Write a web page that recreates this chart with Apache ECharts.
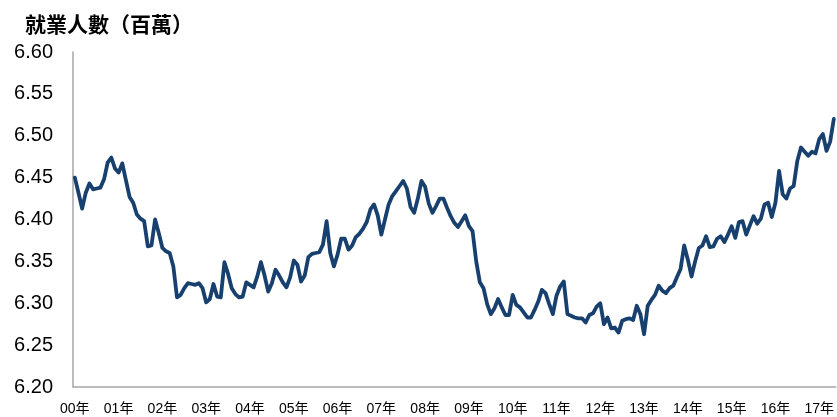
<!DOCTYPE html>
<html>
<head>
<meta charset="utf-8">
<script src="https://cdn.jsdelivr.net/npm/echarts@6/dist/echarts.min.js"></script>
<style>
  html, body { margin: 0; padding: 0; background: #fff; }
  #chart { width: 837px; height: 417px; }
</style>
</head>
<body>
<div id="chart"></div>
<script>
// Monthly employment (millions), Jan 2000 – May 2017
const firstYear = 2000;

const employment = [
  // 2000
  6.450, 6.432, 6.413, 6.432, 6.443, 6.436, 6.437, 6.438, 6.448, 6.468, 6.474, 6.461,
  // 2001
  6.456, 6.467, 6.447, 6.427, 6.420, 6.406, 6.401, 6.398, 6.368, 6.369, 6.400, 6.384,
  // 2002
  6.366, 6.362, 6.360, 6.344, 6.307, 6.310, 6.318, 6.324, 6.323, 6.322, 6.324, 6.318,
  // 2003
  6.301, 6.305, 6.323, 6.308, 6.307, 6.349, 6.335, 6.318, 6.311, 6.307, 6.308, 6.325,
  // 2004
  6.322, 6.319, 6.332, 6.349, 6.333, 6.314, 6.324, 6.340, 6.333, 6.325, 6.319, 6.331,
  // 2005
  6.351, 6.346, 6.326, 6.333, 6.355, 6.359, 6.360, 6.361, 6.370, 6.398, 6.360, 6.344,
  // 2006
  6.358, 6.377, 6.377, 6.364, 6.369, 6.379, 6.383, 6.389, 6.397, 6.412, 6.418, 6.405,
  // 2007
  6.382, 6.400, 6.418, 6.428, 6.434, 6.440, 6.446, 6.437, 6.415, 6.408, 6.425, 6.446,
  // 2008
  6.439, 6.419, 6.408, 6.416, 6.425, 6.425, 6.414, 6.404, 6.396, 6.391, 6.398, 6.405,
  // 2009
  6.392, 6.386, 6.350, 6.325, 6.318, 6.299, 6.287, 6.294, 6.305, 6.295, 6.286, 6.286,
  // 2010
  6.310, 6.298, 6.295, 6.289, 6.283, 6.283, 6.292, 6.302, 6.316, 6.312, 6.299, 6.287,
  // 2011
  6.309, 6.320, 6.326, 6.287, 6.285, 6.283, 6.282, 6.282, 6.277, 6.286, 6.288, 6.296,
  // 2012
  6.300, 6.275, 6.283, 6.270, 6.271, 6.265, 6.279, 6.281, 6.282, 6.280, 6.297, 6.287,
  // 2013
  6.263, 6.297, 6.304, 6.310, 6.321, 6.315, 6.312, 6.318, 6.321, 6.331, 6.341, 6.369,
  // 2014
  6.352, 6.332, 6.350, 6.366, 6.369, 6.380, 6.367, 6.368, 6.377, 6.380, 6.373, 6.382,
  // 2015
  6.392, 6.378, 6.397, 6.398, 6.382, 6.393, 6.404, 6.395, 6.401, 6.418, 6.420, 6.403,
  // 2016
  6.420, 6.458, 6.430, 6.425, 6.437, 6.440, 6.470, 6.486, 6.481, 6.476, 6.481, 6.479,
  // 2017
  6.496, 6.502, 6.482, 6.493, 6.520
];

const yearLabels = ['00年', '01年', '02年', '03年', '04年', '05年', '06年', '07年', '08年',
                    '09年', '10年', '11年', '12年', '13年', '14年', '15年', '16年', '17年'];

const yAxisMin = 6.20;
const yAxisMax = 6.60;
const yAxisStep = 0.05;

// One category per month
const months = employment.map((_, i) => {
  const y = firstYear + Math.floor(i / 12);
  const m = (i % 12) + 1;
  return y + '-' + (m < 10 ? '0' + m : m);
});

const chart = echarts.init(document.getElementById('chart'), null, { renderer: 'canvas' });

chart.setOption({
  animation: false,
  backgroundColor: '#ffffff',
  title: {
    text: '就業人數（百萬）',
    left: 20,
    top: 9,
    textStyle: {
      fontFamily: '"Noto Sans CJK TC", "Noto Sans CJK SC", sans-serif',
      fontSize: 21,
      fontWeight: 'bold',
      color: '#000000'
    }
  },
  grid: { left: 73, right: 1, top: 52, bottom: 30, containLabel: false },
  xAxis: {
    type: 'category',
    data: months,
    boundaryGap: true,
    axisLine: { show: true, lineStyle: { color: '#a6a6a6', width: 1.5 } },
    axisTick: { show: false },
    splitLine: { show: false },
    axisLabel: {
      interval: (index) => index % 12 === 0,
      formatter: (value, index) => yearLabels[Math.floor(index / 12)],
      margin: 15,
      fontSize: 14,
      color: '#000000',
      fontFamily: '"Liberation Sans", "Noto Sans CJK TC", sans-serif'
    }
  },
  yAxis: {
    type: 'value',
    min: yAxisMin,
    max: yAxisMax,
    interval: yAxisStep,
    axisLine: { show: true, lineStyle: { color: '#a6a6a6', width: 1.5 } },
    axisTick: { show: false },
    splitLine: { show: false },
    axisLabel: {
      formatter: (v) => v.toFixed(2),
      margin: 20,
      fontSize: 20,
      color: '#000000',
      fontFamily: '"Liberation Sans", Arial, sans-serif'
    }
  },
  series: [{
    type: 'line',
    data: employment,
    symbol: 'none',
    smooth: false,
    lineStyle: { color: '#17406F', width: 3.8, join: 'round', cap: 'round' }
  }]
});
</script>
</body>
</html>
